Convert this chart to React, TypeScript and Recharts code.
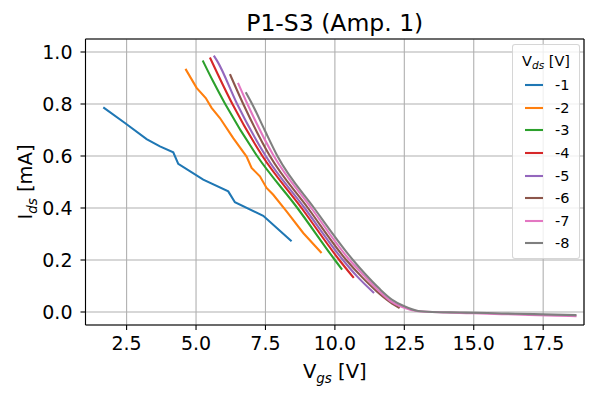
import { CartesianGrid, Legend, Line, LineChart, XAxis, YAxis } from "recharts"

// values (Vgs in V, Ids in mA)
const vdsLabels = ["-1", "-2", "-3", "-4", "-5", "-6", "-7", "-8"]
const colors = ["#1f77b4", "#ff7f0e", "#2ca02c", "#d62728", "#9467bd", "#8c564b", "#e377c2", "#7f7f7f"]

const vgs1 = [1.66, 2.44, 3.22, 3.7, 4.18, 4.36, 5.26, 6.16, 6.4, 7.42, 8.44]
const ids1 = [0.787, 0.727, 0.665, 0.637, 0.614, 0.57, 0.509, 0.464, 0.422, 0.37, 0.272]

const vgs2 = [4.62, 5.02, 5.35, 5.56, 5.86, 6.34, 6.82, 7.0, 7.3, 7.54, 7.78, 8.26, 8.86, 9.52]
const ids2 = [0.935, 0.862, 0.823, 0.785, 0.746, 0.669, 0.598, 0.554, 0.522, 0.477, 0.451, 0.387, 0.304, 0.227]

const vgs3 = [5.24, 5.6, 6.05, 7.2, 8.65, 10.0, 10.26]
const ids3 = [0.967, 0.89, 0.8, 0.6, 0.4, 0.2, 0.163]

const vgs4 = [5.5, 6.31, 7.39, 8.8, 10.16, 10.68]
const ids4 = [0.979, 0.8, 0.6, 0.4, 0.2, 0.131]

const vgs5 = [5.64, 5.78, 6.48, 7.51, 8.91, 10.29, 10.8, 11.41]
const ids5 = [0.986, 0.962, 0.8, 0.6, 0.4, 0.2, 0.137, 0.073]

const vgs6 = [6.22, 6.7, 7.66, 9.03, 10.41, 10.95, 11.5, 12.0, 12.33]
const ids6 = [0.915, 0.8, 0.6, 0.4, 0.2, 0.137, 0.08, 0.037, 0.015]

const vgs7 = [6.51, 6.85, 7.8, 9.15, 10.53, 11.05, 11.55, 12.0, 12.4, 13.0, 14.0, 15.0, 16.0, 17.0, 18.0, 18.7]
const ids7 = [0.881, 0.8, 0.6, 0.4, 0.2, 0.14, 0.085, 0.042, 0.02, 0.003, -0.002, -0.005, -0.008, -0.011, -0.014, -0.016]

const vgs8 = [6.79, 7.02, 7.47, 7.93, 9.25, 10.65, 11.1, 11.6, 12.05, 12.5, 13.0, 13.5, 14.5, 15.5, 16.5, 17.5, 18.7]
const ids8 = [0.845, 0.8, 0.7, 0.6, 0.4, 0.2, 0.145, 0.09, 0.048, 0.022, 0.004, 0.0, -0.002, -0.004, -0.007, -0.009, -0.012]

const xTicks = [2.5, 5.0, 7.5, 10.0, 12.5, 15.0, 17.5]
const yTicks = [0.0, 0.2, 0.4, 0.6, 0.8, 1.0]
const xDomain = [1.02, 18.97]
const yDomain = [-0.05, 1.05]

const pairs = [
  [vgs1, ids1],
  [vgs2, ids2],
  [vgs3, ids3],
  [vgs4, ids4],
  [vgs5, ids5],
  [vgs6, ids6],
  [vgs7, ids7],
  [vgs8, ids8],
]
const series = pairs.map(([xs, ys]) => xs.map((v, i) => ({ vgs: v, ids: ys[i] })))

const font = "DejaVu Sans"
const tick = { fontSize: 19, fill: "#000", fontFamily: font }
const black = { stroke: "#000", strokeWidth: 1.1 }
const margin = { top: 38, right: 15, left: 25.5, bottom: 45 }

function XLabel({ viewBox }: any) {
  if (!viewBox) return null
  const { x, width } = viewBox
  return (
    <text x={x + width / 2} y={378} textAnchor="middle" fontSize={19.5} fontFamily={font} fill="#000">
      V<tspan dy={4.5} fontSize={13.5} fontStyle="italic">gs</tspan>
      <tspan dy={-4.5}> [V]</tspan>
    </text>
  )
}

function YLabel({ viewBox }: any) {
  if (!viewBox) return null
  const cy = viewBox.y + viewBox.height / 2
  return (
    <text x={32} y={cy} transform={`rotate(-90, 32, ${cy})`} textAnchor="middle" fontSize={19.5} fontFamily={font} fill="#000">
      I<tspan dy={4.5} fontSize={13.5} fontStyle="italic">ds</tspan>
      <tspan dy={-4.5}> [mA]</tspan>
    </text>
  )
}

function Title({ viewBox }: any) {
  if (!viewBox) return null
  return (
    <text x={viewBox.x + viewBox.width / 2} y={31} textAnchor="middle" fontSize={23.5} fontFamily={font} fill="#000">
      P1-S3 (Amp. 1)
    </text>
  )
}

function LegendBox({ payload }: any) {
  return (
    <div
      style={{
        boxSizing: "border-box",
        width: 68,
        height: 215,
        background: "rgba(255,255,255,0.8)",
        border: "1px solid rgba(204,204,204,0.8)",
        borderRadius: 3,
        fontFamily: font,
        fontSize: 14.5,
        color: "#000",
        paddingTop: 7,
      }}
    >
      <div style={{ textAlign: "center", height: 18, lineHeight: "18px" }}>
        V<sub style={{ fontSize: 10.5, fontStyle: "italic", verticalAlign: "-3px" }}>ds</sub> [V]
      </div>
      <div style={{ marginTop: 4 }}>
        {(payload || []).map((p: any) => (
          <div key={p.value} style={{ display: "flex", alignItems: "center", height: 22.6 }}>
            <svg width={30} height={6} style={{ display: "block" }}>
              <line x1={12} x2={30} y1={3} y2={3} stroke={p.color} strokeWidth={2.1} />
            </svg>
            <span style={{ marginLeft: 12, lineHeight: "22px" }}>{p.value}</span>
          </div>
        ))}
      </div>
    </div>
  )
}

export default function App() {
  return (
    <div style={{ position: "relative", marginLeft: -8, marginTop: -8, width: 600, height: 400, background: "#fff" }}>
      <LineChart width={600} height={400} margin={margin}>
        <CartesianGrid stroke="#b0b0b0" strokeWidth={1.1} />
        {/* top and right axes only draw the frame spines */}
        <XAxis
          xAxisId="top"
          orientation="top"
          type="number"
          dataKey="vgs"
          domain={xDomain}
          height={1}
          tick={false}
          tickLine={false}
          axisLine={black}
          label={<Title />}
        />
        <YAxis
          yAxisId="right"
          orientation="right"
          type="number"
          dataKey="ids"
          domain={yDomain}
          width={1}
          tick={false}
          tickLine={false}
          axisLine={black}
        />
        <XAxis
          type="number"
          dataKey="vgs"
          domain={xDomain}
          allowDataOverflow
          ticks={xTicks}
          tickFormatter={(v: number) => v.toFixed(1)}
          height={30}
          tickSize={5}
          tickMargin={7}
          tick={tick}
          tickLine={black}
          axisLine={black}
          label={<XLabel />}
        />
        <YAxis
          type="number"
          dataKey="ids"
          domain={yDomain}
          allowDataOverflow
          ticks={yTicks}
          tickFormatter={(v: number) => v.toFixed(1)}
          width={60}
          tickSize={5}
          tickMargin={8}
          tick={tick}
          tickLine={black}
          axisLine={black}
          label={<YLabel />}
        />
        {series.map((d, i) => (
          <Line
            key={vdsLabels[i]}
            data={d}
            dataKey="ids"
            name={vdsLabels[i]}
            type={i < 2 ? "linear" : "monotone"}
            stroke={colors[i]}
            strokeWidth={2.1}
            dot={false}
            activeDot={false}
            isAnimationActive={false}
          />
        ))}
        <Legend
          layout="vertical"
          align="center"
          verticalAlign="middle"
          content={<LegendBox />}
          wrapperStyle={{ top: 44, left: 512, width: 68, height: 215 }}
        />
      </LineChart>
    </div>
  )
}
